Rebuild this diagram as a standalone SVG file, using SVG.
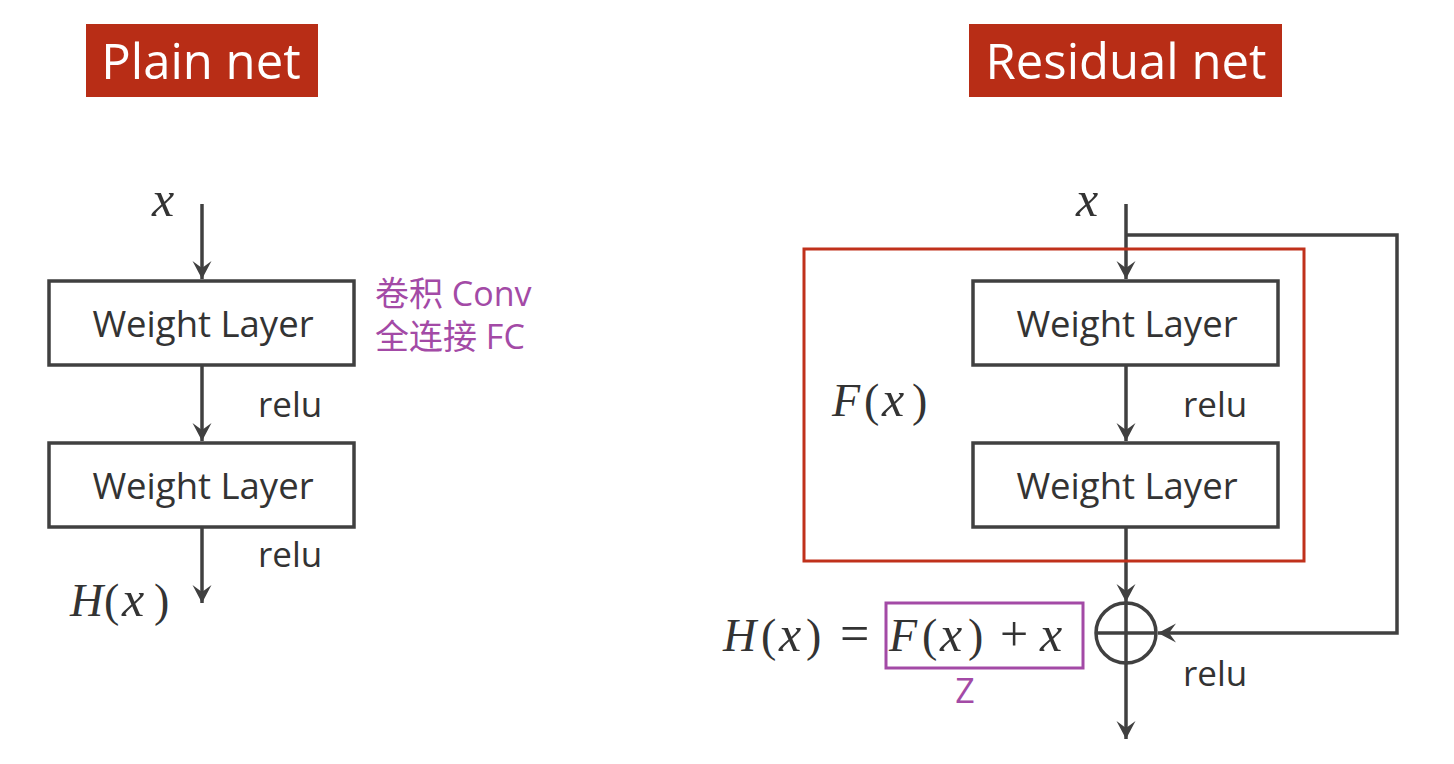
<svg xmlns="http://www.w3.org/2000/svg" width="1454" height="764" viewBox="0 0 1454 764">
<defs>
<style>
.box{fill:#fff;stroke:#404040;stroke-width:3.5}
.ln{fill:none;stroke:#404040;stroke-width:3.5}
.wl{font-family:"Open Sans","Noto Sans",sans-serif;font-size:36.5px;fill:#333;text-anchor:middle}
.relu{font-family:"Open Sans","Noto Sans",sans-serif;font-size:35px;fill:#333}
.title{font-family:"Open Sans","Noto Sans",sans-serif;font-size:49px;fill:#fff;text-anchor:middle}
.math{font-family:"Liberation Serif","DejaVu Serif",serif;font-size:46px;fill:#333}
.it{font-style:italic}
.xv{font-style:italic;font-size:50px}
.pur{font-family:"Open Sans","Noto Sans CJK SC",sans-serif;font-size:34px;fill:#A34AA6}
</style>
<marker id="ah" markerUnits="userSpaceOnUse" markerWidth="24" markerHeight="24" viewBox="-20 -12 24 24" refX="0" refY="0" orient="auto">
<path d="M0,0 L-18,-9.5 L-11,0 L-18,9.5 Z" fill="#404040"/>
</marker>
</defs>
<rect width="1454" height="764" fill="#fff"/>

<g id="title-plain">
<rect x="86" y="24" width="232" height="73" fill="#B82D16"/>
<text class="title" x="201" y="79">Plain net</text>
</g>
<g id="title-residual">
<rect x="969" y="24" width="313" height="73" fill="#B82D16"/>
<text class="title" x="1126" y="79">Residual net</text>
</g>

<g id="connectors">
<line class="ln" x1="202" y1="204" x2="202" y2="279" marker-end="url(#ah)"/>
<line class="ln" x1="202" y1="366" x2="202" y2="441" marker-end="url(#ah)"/>
<line class="ln" x1="202" y1="528" x2="202" y2="603" marker-end="url(#ah)"/>
<line class="ln" x1="1126" y1="204" x2="1126" y2="279" marker-end="url(#ah)"/>
<polyline class="ln" points="1126,235 1397,235 1397,633 1158,633" marker-end="url(#ah)"/>
<line class="ln" x1="1126" y1="366" x2="1126" y2="441" marker-end="url(#ah)"/>
<line class="ln" x1="1126" y1="528" x2="1126" y2="602" marker-end="url(#ah)"/>
<line class="ln" x1="1126" y1="664" x2="1126" y2="739" marker-end="url(#ah)"/>
</g>

<g id="plain-x"><text class="math xv" x="152" y="216">x</text></g>
<g id="plain-wl1">
<rect class="box" x="49" y="281" width="305" height="84"/>
<text class="wl" x="203" y="337">Weight Layer</text>
</g>
<g id="plain-note">
<text class="pur" x="375" y="306">卷积 Conv</text>
<text class="pur" x="375" y="349">全连接 FC</text>
</g>
<g id="plain-relu1"><text class="relu" x="258" y="417">relu</text></g>
<g id="plain-wl2">
<rect class="box" x="49" y="443" width="305" height="84"/>
<text class="wl" x="203" y="499">Weight Layer</text>
</g>
<g id="plain-relu2"><text class="relu" x="258" y="567">relu</text></g>
<g id="plain-hx"><text class="math" y="616"><tspan class="it" x="70">H</tspan><tspan x="104">(</tspan><tspan class="xv" x="122">x</tspan><tspan x="154">)</tspan></text></g>

<g id="res-fx-block">
<rect x="804" y="249" width="500" height="312" fill="none" stroke="#C0311B" stroke-width="3"/>
<text class="math" y="416"><tspan class="it" x="832">F</tspan><tspan x="864">(</tspan><tspan class="xv" x="882">x</tspan><tspan x="912">)</tspan></text>
</g>
<g id="res-x"><text class="math xv" x="1076" y="216">x</text></g>
<g id="res-wl1">
<rect class="box" x="973" y="281" width="305" height="84"/>
<text class="wl" x="1127" y="337">Weight Layer</text>
</g>
<g id="res-relu1"><text class="relu" x="1183" y="417">relu</text></g>
<g id="res-wl2">
<rect class="box" x="973" y="443" width="305" height="84"/>
<text class="wl" x="1127" y="499">Weight Layer</text>
</g>
<g id="res-sum">
<circle cx="1126" cy="633" r="30" fill="#fff" stroke="#404040" stroke-width="3.5"/>
<line class="ln" x1="1096" y1="633" x2="1156" y2="633"/>
<line class="ln" x1="1126" y1="603" x2="1126" y2="663"/>
</g>
<g id="res-relu2"><text class="relu" x="1183" y="686">relu</text></g>
<g id="res-eq">
<text class="math" y="651"><tspan class="it" x="723">H</tspan><tspan x="761">(</tspan><tspan class="xv" x="779">x</tspan><tspan x="806">)</tspan><tspan x="840" font-size="52">=</tspan></text>
<rect x="886" y="603" width="197" height="65" fill="none" stroke="#A34AA6" stroke-width="3"/>
<text class="math" y="651"><tspan class="it" x="889">F</tspan><tspan x="922">(</tspan><tspan class="xv" x="940">x</tspan><tspan x="968">)</tspan><tspan x="1000" font-size="50">+</tspan><tspan class="xv" x="1040">x</tspan></text>
<text class="pur" x="965" y="703" text-anchor="middle" font-size="35">Z</text>
</g>
</svg>
